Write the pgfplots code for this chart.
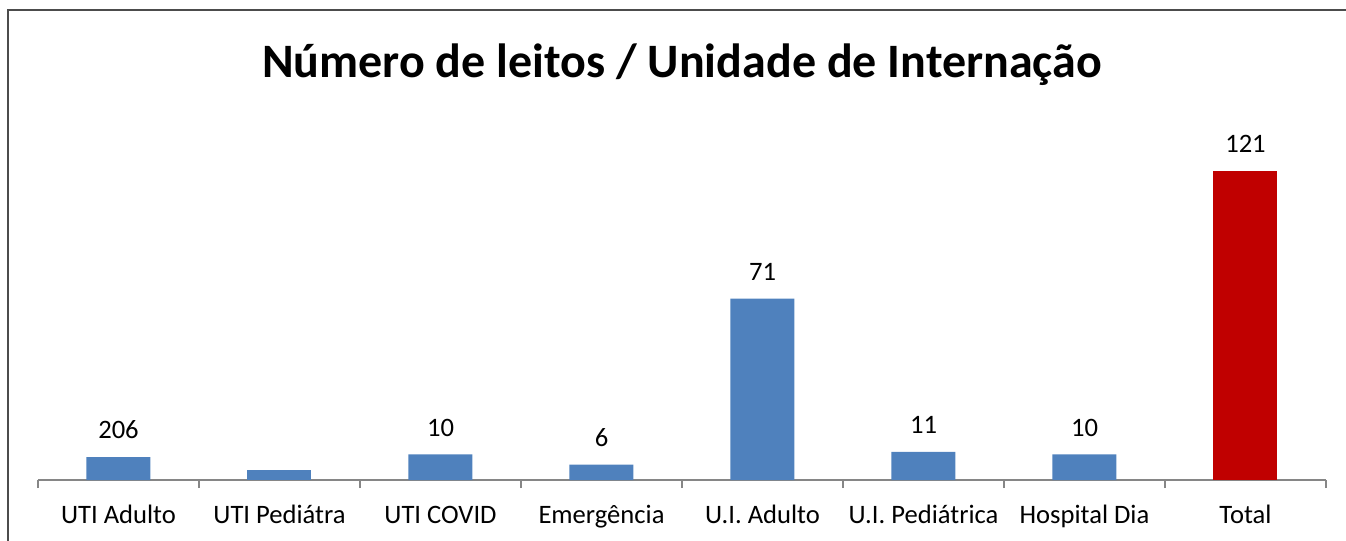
\documentclass[border=0pt]{standalone}
\usepackage{pgfplots}
\pgfplotsset{compat=1.18}
\usepackage{fontspec}
\setmainfont{Carlito}
\definecolor{barblue}{HTML}{4F81BD}
\definecolor{barred}{HTML}{C00000}
\definecolor{axgray}{HTML}{868686}
\begin{document}
\begin{tikzpicture}
\useasboundingbox (0,0) rectangle (673pt,270.5pt);
\draw[line width=1pt, color=black!70] (4pt,0) -- (4pt,265.5pt) -- (673pt,265.5pt);
\node[font=\bfseries\fontsize{24}{28}\selectfont] at (341pt,238pt) {Número de leitos / Unidade de Internação};
\begin{axis}[
  at={(19pt,30.5pt)}, anchor=south west,
  scale only axis,
  width=644pt, height=154.5pt,
  xmin=-0.5, xmax=7.5, ymin=0, ymax=121,
  axis x line*=bottom, axis y line=none,
  axis line style={axgray, line width=0.9pt, -},
  xtick={0,...,7},
  xticklabels={UTI Adulto, UTI Pediátra, UTI COVID, Emergência, U.I. Adulto, U.I. Pediátrica, Hospital Dia, Total},
  major tick length=0pt,
  minor xtick={-0.5,0.5,...,7.5},
  minor tick length=4pt,
  every minor tick/.append style={axgray, line width=0.9pt},
  tick align=outside,
  xticklabel style={font=\fontsize{13.3}{16}\selectfont, text height=0.7em, text depth=0.22em, anchor=north, yshift=-11pt},
  ytick=\empty,
  clip=false,
  ybar, bar width=32pt,
  nodes near coords style={font=\fontsize{13.3}{16}\selectfont},
]
\addplot[fill=barblue, draw=none, bar shift=0pt, point meta=explicit symbolic, nodes near coords,
  every node near coord/.append style={anchor=center, yshift=13.5pt}]
  coordinates {(0,9) [206] (2,10) [10] (3,6) [6] (4,71) [71] (5,11) [11] (6,10) [10]};
\addplot[fill=barblue, draw=none, bar shift=0pt] coordinates {(1,4)};
\addplot[fill=barred, draw=none, bar shift=0pt, point meta=explicit symbolic, nodes near coords,
  every node near coord/.append style={anchor=center, yshift=13.5pt}]
  coordinates {(7,121) [121]};
\end{axis}
\end{tikzpicture}
\end{document}
